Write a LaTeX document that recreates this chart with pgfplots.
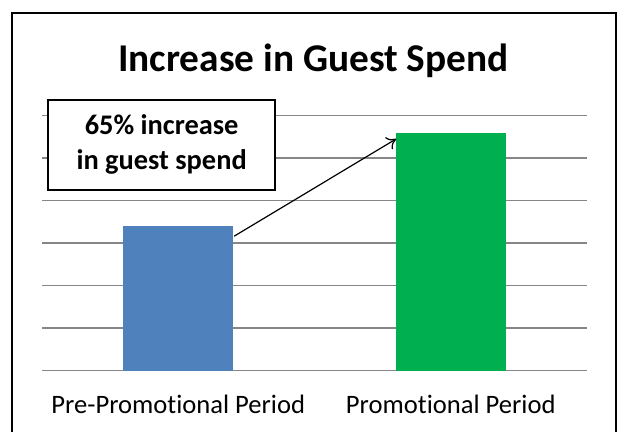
\documentclass[border=0pt]{standalone}
\usepackage{fontspec}
\setmainfont[Ligatures=NoCommon]{Carlito}
\usepackage{pgfplots}
\pgfplotsset{compat=1.18}
\usetikzlibrary{arrows.meta}
\definecolor{barblue}{RGB}{79,129,189}
\definecolor{bargreen}{RGB}{0,176,80}
\definecolor{gridgray}{RGB}{134,134,134}
\begin{document}
\begin{tikzpicture}[x=1bp,y=1bp]
\useasboundingbox (0,0) rectangle (618,431);
\draw[line width=1.6bp] (12,-3) -- (12,418) -- (616,418) -- (616,-3);
\node[anchor=base, font=\fontsize{39.5}{46}\selectfont\bfseries, inner sep=0] at (313.5,360) {Increase in Guest Spend};
\begin{axis}[
  at={(42bp,60.5bp)}, anchor=south west,
  scale only axis, width=545bp, height=255bp,
  xmin=-0.5, xmax=1.5, ymin=0, ymax=6,
  ytick={0,1,2,3,4,5,6}, yticklabels={},
  ymajorgrids, grid style={gridgray, line width=1.4bp},
  major tick length=0pt,
  axis line style={draw=none},
  xtick={0,1}, xticklabels={Pre-Promotional Period, Promotional Period},
  xticklabel style={anchor=base, yshift=-42.5bp, font=\fontsize{26.7}{32}\selectfont},
  ybar, bar width=110bp, bar shift=0pt,
  clip=false,
]
\addplot[draw=none, fill=barblue] coordinates {(0,3.4)};
\addplot[draw=none, fill=bargreen] coordinates {(1,5.6)};
\draw[line width=1.2bp, -{To[length=9bp,width=14bp]}] (axis cs:0.205,3.16) -- (axis cs:0.8,5.45);
\node[draw, fill=white, line width=1.6bp, minimum width=227bp, minimum height=90bp, align=center,
  font=\fontsize{28.5}{35}\selectfont\bfseries, inner sep=0] at (axis cs:-0.061,5.31) {65\% increase\\in guest spend};
\end{axis}
\end{tikzpicture}
\end{document}
